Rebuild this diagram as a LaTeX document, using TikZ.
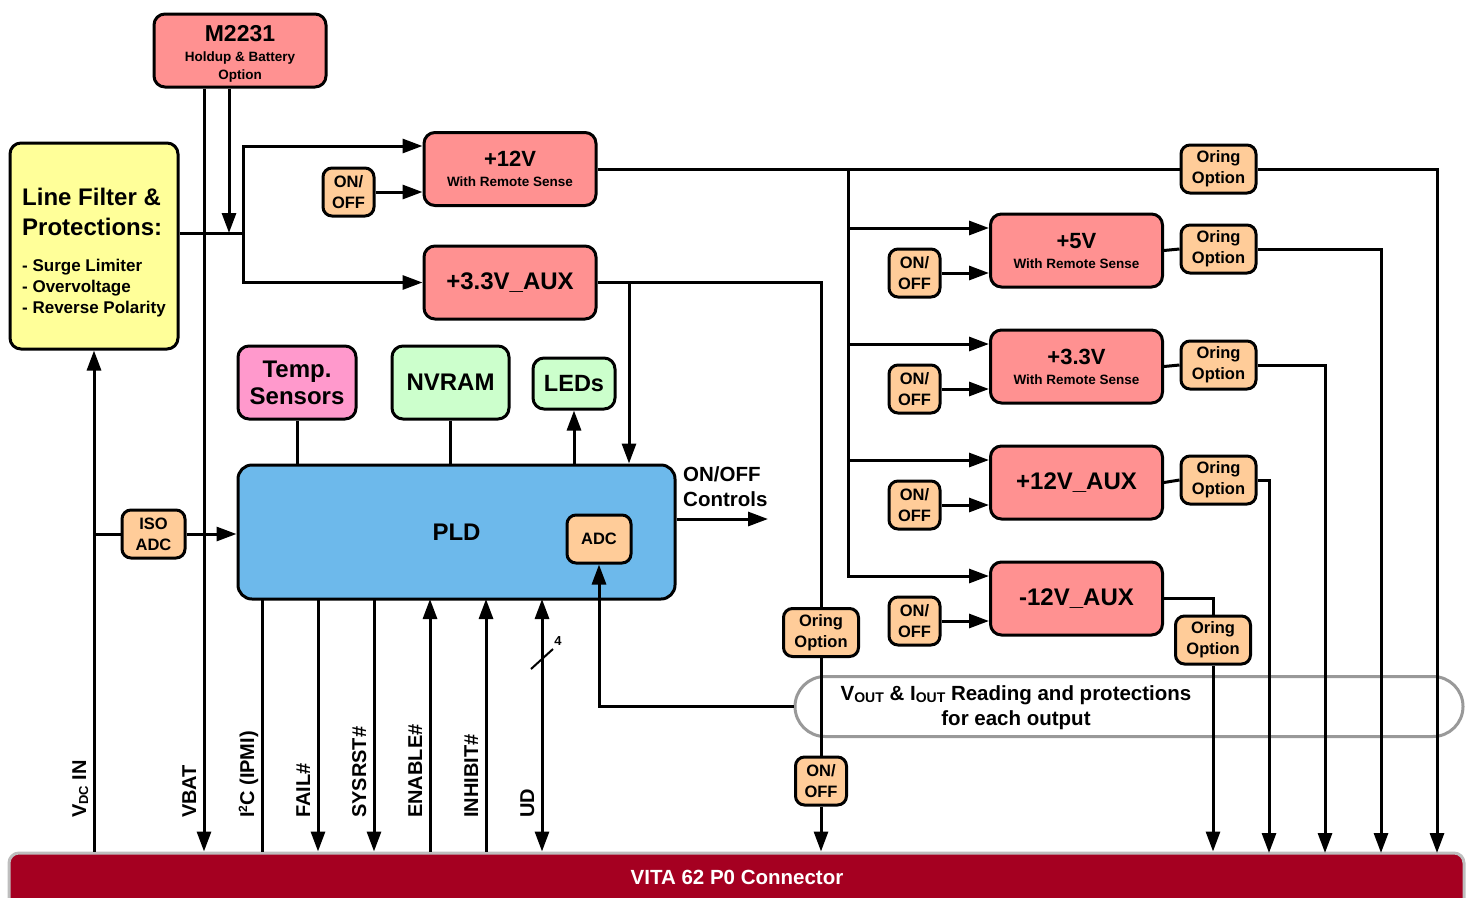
\documentclass[tikz,border=0pt]{standalone}
\usepackage{fontspec}
\setmainfont{Liberation Sans}
\usetikzlibrary{arrows.meta, positioning, calc}

\definecolor{salmon}{HTML}{FF9191}
\definecolor{peach}{HTML}{FFCC99}
\definecolor{lemon}{HTML}{FFFF99}
\definecolor{rose}{HTML}{FF99CC}
\definecolor{mint}{HTML}{CCFFCC}
\definecolor{sky}{HTML}{6DB9EB}
\definecolor{wine}{HTML}{A50021}
\definecolor{rim}{HTML}{BEBEBE}
\definecolor{ovalgray}{HTML}{999999}

\begin{document}
\begin{tikzpicture}[
        x=1pt, y=-1pt,
        font=\bfseries,
        box/.style={
            draw,
            line width=3pt,
            rounded corners=11pt,
            align=center,
            inner sep=0pt
        },
        conv/.style={
            box,
            fill=salmon,
            minimum width=172pt,
            minimum height=73pt,
            font=\fontsize{13.5}{20}\selectfont\bfseries
        },
        single/.style={
            font=\fontsize{24}{28}\selectfont\bfseries
        },
        switch/.style={
            box,
            fill=peach,
            rounded corners=9pt,
            minimum width=51pt,
            minimum height=48pt,
            font=\fontsize{16.5}{21}\selectfont\bfseries
        },
        oring/.style={
            switch,
            minimum width=75pt
        },
        wire/.style={
            line width=3pt
        },
        arrow/.style={
            wire,
            -{Triangle[length=20pt, width=14pt]}
        },
        dblarrow/.style={
            wire,
            {Triangle[length=20pt, width=14pt]}-{Triangle[length=20pt, width=14pt]}
        },
        signal/.style={
            rotate=90,
            anchor=base west,
            inner sep=0pt,
            font=\fontsize{20}{20}\selectfont\bfseries
        }
    ]

    \useasboundingbox (0,0) rectangle (1471,897);

    % Connector and measurement band (under the wires)
    \node (conn) [draw=rim, line width=3pt, fill=wine, rounded corners=10pt, minimum width=1455pt, minimum height=60pt] at (736.5,883) {};
    \node (conntitle) [text=white, font=\fontsize{20.5}{20.5}\selectfont\bfseries] at (737,877) {VITA 62 P0 Connector};
    \node (vio) [draw=ovalgray, line width=3pt, rounded corners=30pt, minimum width=668pt, minimum height=60pt] at (1129,706.5) {};
    \node (viotext) [align=center, font=\fontsize{20.5}{25}\selectfont\bfseries] at (1016,708) {V\raisebox{-2pt}{\fontsize{14}{14}\selectfont OUT} \& I\raisebox{-2pt}{\fontsize{14}{14}\selectfont OUT} Reading and protections\\for each output};

    % Input side
    \node (m2231) [box, fill=salmon, minimum width=172pt, minimum height=73pt, font=\fontsize{13.5}{18}\selectfont\bfseries] at (240,50.5) {\rule{0pt}{22.5pt}{\fontsize{23}{23}\selectfont M2231}\\[2pt]Holdup \& Battery\\Option};
    \node (lf) [box, fill=lemon, minimum width=168pt, minimum height=206pt, align=left, font=\fontsize{17}{21}\selectfont\bfseries] at (94,246) {\rule{0pt}{31.5pt}{\fontsize{24}{30}\selectfont Line Filter \&}\\[9pt]{\fontsize{24}{30}\selectfont Protections:}\\[15pt]- Surge Limiter\\- Overvoltage\\- Reverse Polarity};
    \node (v12) [conv] at (510,169) {{\fontsize{22}{22}\selectfont +12V}\\With Remote Sense};
    \node (v33aux) [conv, single] at (510,282.5) {+3.3V\_AUX};
    \node (oo1) [switch] at (348.5,192) {ON/\\OFF};

    % Control
    \node (temp) [box, fill=rose, minimum width=118pt, minimum height=73pt, font=\fontsize{24}{27}\selectfont\bfseries] at (297,382.5) {Temp.\\Sensors};
    \node (nvram) [box, fill=mint, minimum width=117pt, minimum height=73pt, font=\fontsize{24}{27}\selectfont\bfseries] at (450.5,382.5) {NVRAM};
    \node (leds) [box, fill=mint, minimum width=82pt, minimum height=51pt, font=\fontsize{23.5}{27}\selectfont\bfseries] at (574,383.5) {LEDs};
    \node (pld) [box, fill=sky, rounded corners=14pt, minimum width=437pt, minimum height=134pt, font=\fontsize{24}{27}\selectfont\bfseries] at (456.5,532) {PLD};
    \node (adc) [switch, minimum width=64pt] at (599,539) {ADC};
    \node (isoadc) [switch, minimum width=63pt] at (153.5,534) {ISO\\ADC};

    % Output converters
    \node (v5) [conv] at (1076.5,250.5) {{\fontsize{22}{22}\selectfont +5V}\\With Remote Sense};
    \node (v33) [conv] at (1076.5,366.5) {{\fontsize{22}{22}\selectfont +3.3V}\\With Remote Sense};
    \node (v12aux) [conv, single] at (1076.5,482.5) {+12V\_AUX};
    \node (vm12aux) [conv, single] at (1076.5,598.5) {-12V\_AUX};
    \node (oo5) [switch] at (914.5,273) {ON/\\OFF};
    \node (oo33) [switch] at (914.5,389) {ON/\\OFF};
    \node (oo12aux) [switch] at (914.5,505) {ON/\\OFF};
    \node (oom12) [switch] at (914.5,621) {ON/\\OFF};
    \node (or12) [oring] at (1218.5,169) {Oring\\Option};
    \node (or5) [oring] at (1218.5,249) {Oring\\Option};
    \node (or33) [oring] at (1218.5,365) {Oring\\Option};
    \node (or12aux) [oring] at (1218.5,480) {Oring\\Option};
    \node (orm12) [oring] at (1213,640) {Oring\\Option};
    \node (or33aux) [oring] at (821,632.5) {Oring\\Option};
    \node (oobot) [switch] at (821,781) {ON/\\OFF};

    % Helper points
    \coordinate (junc) at (243,233);
    \coordinate (bus) at (848,169);
    \coordinate (tap) at (629,282.5);
    \coordinate (ctl) at (768,519);
    \coordinate (out2) at (1269,853);
    \coordinate (out3) at (1325,853);
    \coordinate (out4) at (1381,853);
    \coordinate (out5) at (1437,853);
    \coordinate (i2c) at (262,599);
    \coordinate (fail) at (318,599);
    \coordinate (sysrst) at (374,599);
    \coordinate (enable) at (430,599);
    \coordinate (inhibit) at (486,599);
    \coordinate (ud) at (542,599);
    \coordinate (udmark) at (542,659);

    % Input power
    \draw [wire] (lf.east |- junc) -- (junc);
    \draw [arrow] (junc) |- ([yshift=23pt]v12.west);
    \draw [arrow] (junc) |- (v33aux.west);
    \draw [arrow] (oo1.east) -- (oo1.east -| v12.west);
    \draw [arrow] ([xshift=-11pt]m2231.south) -- ([xshift=-11pt]m2231.south |- junc);
    \draw [arrow] ([xshift=-36pt]m2231.south) -- ([xshift=-36pt]m2231.south |- conn.north);
    \draw [arrow] (lf.south |- conn.north) -- (lf.south);
    \draw [wire] (lf.south |- isoadc.west) -- (isoadc.west);
    \draw [arrow] (isoadc.east) -- (isoadc.east -| pld.west);

    % +12V bus to the converters
    \draw [wire] (v12.east) -- (or12.west);
    \draw [arrow] (or12.east) -| (out5);
    \draw [arrow] (bus) |- ([yshift=22.5pt]v5.west);
    \draw [arrow] (bus) |- ([yshift=22.5pt]v33.west);
    \draw [arrow] (bus) |- ([yshift=22.5pt]v12aux.west);
    \draw [arrow] (bus) |- ([yshift=22.5pt]vm12aux.west);
    \draw [arrow] (oo5.east) -- (oo5.east -| v5.west);
    \draw [arrow] (oo33.east) -- (oo33.east -| v33.west);
    \draw [arrow] (oo12aux.east) -- (oo12aux.east -| v12aux.west);
    \draw [arrow] (oom12.east) -- (oom12.east -| vm12aux.west);

    % Outputs
    \draw [wire] (v5.east) -- (or5.west);
    \draw [arrow] (or5.east) -| (out4);
    \draw [wire] (v33.east) -- (or33.west);
    \draw [arrow] (or33.east) -| (out3);
    \draw [wire] (v12aux.east) -- (or12aux.west);
    \draw [arrow] (or12aux.east) -| (out2);
    \draw [wire] (vm12aux.east) -| (orm12.north);
    \draw [arrow] (orm12.south) -- (orm12.south |- conn.north);
    \draw [wire] (v33aux.east) -| (or33aux.north);
    \draw [wire] (or33aux.south) -- (oobot.north);
    \draw [arrow] (oobot.south) -- (oobot.south |- conn.north);
    \draw [arrow] (tap) -- (tap |- pld.north);

    % PLD links
    \draw [wire] (temp.south) -- (temp.south |- pld.north);
    \draw [wire] (nvram.south) -- (nvram.south |- pld.north);
    \draw [arrow] (leds.south |- pld.north) -- (leds.south);
    \draw [arrow] (ctl -| pld.east) -- (ctl);
    \node (ctltext) [anchor=north west, align=left, inner sep=0pt, font=\fontsize{20.5}{25}\selectfont\bfseries] at (683,466) {ON/OFF\\Controls};
    \draw [arrow] (vio.west) -| (adc.south);

    % Backplane signals
    \draw [wire] (i2c) -- (i2c |- conn.north);
    \draw [arrow] (fail) -- (fail |- conn.north);
    \draw [arrow] (sysrst) -- (sysrst |- conn.north);
    \draw [arrow] (enable |- conn.north) -- (enable);
    \draw [arrow] (inhibit |- conn.north) -- (inhibit);
    \draw [dblarrow] (ud) -- (ud |- conn.north);
    \draw [line width=2pt] ([shift={(-11,10)}]udmark) -- ([shift={(11,-10)}]udmark);
    \node (udnum) [font=\fontsize{13}{13}\selectfont\bfseries] at (558,641) {4};

    \node (lvdc) [signal] at (86,818) {V\raisebox{-2pt}{\fontsize{13}{13}\selectfont DC} IN};
    \node (lvbat) [signal] at (196,818) {VBAT};
    \node (li2c) [signal] at (254,818) {I\raisebox{7pt}{\fontsize{12}{12}\selectfont 2}C (IPMI)};
    \node (lfail) [signal] at (310,818) {FAIL\#};
    \node (lsysrst) [signal] at (366,818) {SYSRST\#};
    \node (lenable) [signal] at (422,818) {ENABLE\#};
    \node (linhibit) [signal] at (478,818) {INHIBIT\#};
    \node (lud) [signal] at (534,818) {UD};

\end{tikzpicture}
\end{document}
